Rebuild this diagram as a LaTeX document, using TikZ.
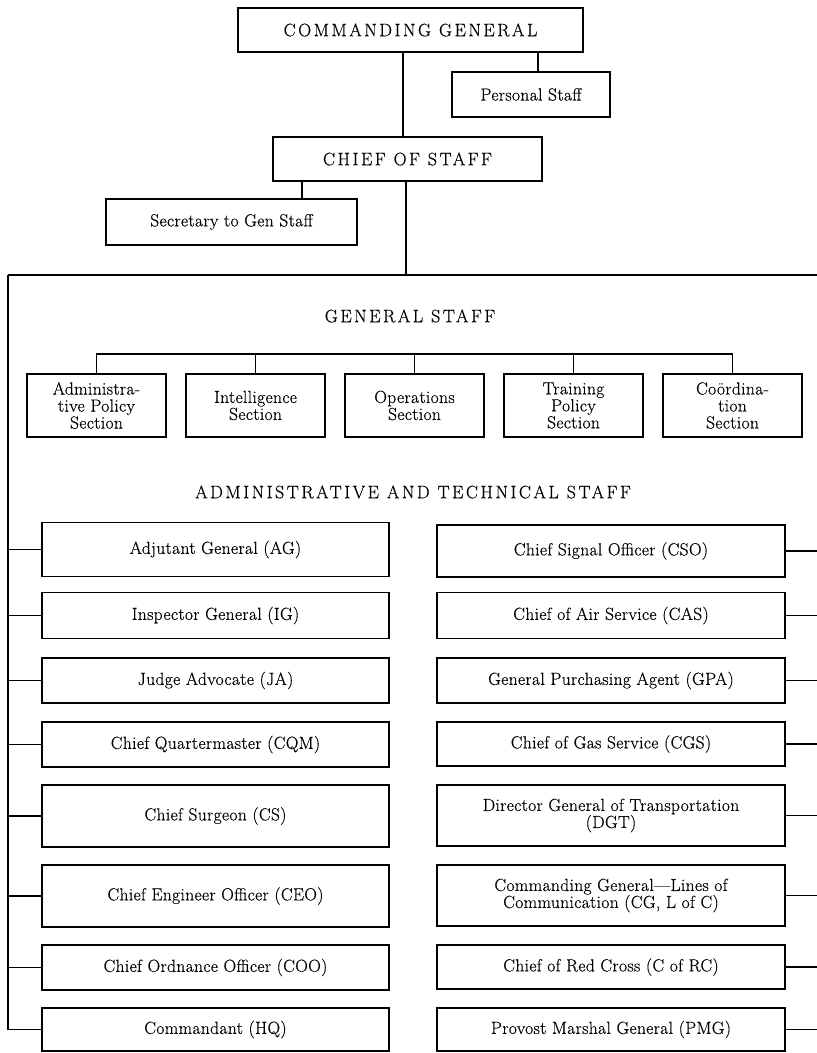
\documentclass[tikz,border=0pt]{standalone}
\usepackage{fontspec}
\newfontfamily\chartfont{Latin Modern Roman}[FakeBold=0.4,LetterSpace=2,Ligatures=TeX]
\newfontfamily\chartcaps{Latin Modern Roman}[FakeBold=0.4,LetterSpace=14,Ligatures=TeX]
\begin{document}
\begin{tikzpicture}[x=1pt,y=-1pt,
  box/.style={draw, line width=1.1pt, inner sep=0pt, align=center,
    font=\fontsize{17.5}{17}\selectfont\chartfont},
  capsbox/.style={box, font=\fontsize{18}{18}\selectfont\chartcaps},
  title/.style={inner sep=0pt, font=\fontsize{18}{18}\selectfont\chartcaps},
  gsbox/.style={box, minimum width=139pt, minimum height=63pt},
  lbox/.style={box, minimum width=347pt},
  rbox/.style={box, minimum width=348pt},
  link/.style={line width=1.1pt}]
\useasboundingbox (0,0) rectangle (817,1053);

% top of the chart
\node[capsbox, minimum width=345pt, minimum height=44pt] (cg) at (410.5,30) {COMMANDING GENERAL};
\node[box, minimum width=158pt, minimum height=45pt] (ps) at (531,94.5) {Personal Staff};
\node[capsbox, minimum width=269pt, minimum height=44pt] (cos) at (407.5,159) {CHIEF OF STAFF};
\node[box, minimum width=251pt, minimum height=46pt] (sec) at (231.5,222) {Secretary to Gen Staff};

\coordinate (xcg) at (403,0);
\coordinate (xps) at (538,0);
\coordinate (xsec) at (302,0);
\coordinate (xcos) at (406,0);
\coordinate (top) at (406,275);
\coordinate (tl) at (8,275);
\coordinate (tr) at (817,275);

\draw[link] (cg.south -| xcg) -- (cos.north -| xcg);
\draw[link] (cg.south -| xps) -- (ps.north -| xps);
\draw[link] (cos.south -| xsec) -- (sec.north -| xsec);
\draw[link] (cos.south -| xcos) -- (top);
\draw[link] (tl) -- (tr);

% general staff
\node[title] (gs) at (410,316) {GENERAL STAFF};
\node[gsbox] (g1) at (96.5,405.5) {Administra-\\tive Policy\\Section};
\node[gsbox] (g2) at (255.5,405.5) {Intelligence\\Section};
\node[gsbox] (g3) at (414.5,405.5) {Operations\\Section};
\node[gsbox] (g4) at (573.5,405.5) {Training\\Policy\\Section};
\node[gsbox] (g5) at (732.5,405.5) {Coördina-\\tion\\Section};
\coordinate (bar) at (0,354);
\draw[link] (g1.north) -- (g1.north |- bar) -- (g5.north |- bar) -- (g5.north);
\foreach \n in {g2,g3,g4} \draw[link] (\n.north |- bar) -- (\n.north);

% administrative and technical staff
\node[title] (ats) at (413,492) {ADMINISTRATIVE AND TECHNICAL STAFF};

\node[lbox, minimum height=54pt] (ag)  at (215.5,549.5) {Adjutant General (AG)};
\node[lbox, minimum height=46pt] (ig)  at (215.5,615.5) {Inspector General (IG)};
\node[lbox, minimum height=45pt] (ja)  at (215.5,680.5) {Judge Advocate (JA)};
\node[lbox, minimum height=45pt] (cqm) at (215.5,744.5) {Chief Quartermaster (CQM)};
\node[lbox, minimum height=62pt] (cs)  at (215.5,816) {Chief Surgeon (CS)};
\node[lbox, minimum height=62pt] (ceo) at (215.5,896) {Chief Engineer Officer (CEO)};
\node[lbox, minimum height=45pt] (coo) at (215.5,967.5) {Chief Ordnance Officer (COO)};
\node[lbox, minimum height=43pt] (hq)  at (215.5,1029.5) {Commandant (HQ)};

\node[rbox, minimum height=52pt] (cso) at (611,551) {Chief Signal Officer (CSO)};
\node[rbox, minimum height=46pt] (cas) at (611,615.5) {Chief of Air Service (CAS)};
\node[rbox, minimum height=45pt] (gpa) at (611,680.5) {General Purchasing Agent (GPA)};
\node[rbox, minimum height=44pt] (cgs) at (611,744) {Chief of Gas Service (CGS)};
\node[rbox, minimum height=61pt] (dgt) at (611,815.5) {Director General of Transportation\\(DGT)};
\node[rbox, minimum height=61pt] (loc) at (611,895.5) {Commanding General—Lines of\\Communication (CG, L of C)};
\node[rbox, minimum height=44pt] (rc)  at (611,967) {Chief of Red Cross (C of RC)};
\node[rbox, minimum height=43pt] (pmg) at (611,1029.5) {Provost Marshal General (PMG)};

\coordinate (lx) at (8,0);
\coordinate (rx) at (817,0);
\draw[link] (tl) -- (hq.west -| lx) -- (hq.west);
\foreach \n in {ag,ig,ja,cqm,cs,ceo,coo} \draw[link] (\n.west -| lx) -- (\n.west);
\foreach \n in {cso,cas,gpa,cgs,dgt,loc,rc,pmg} \draw[link] (\n.east) -- (\n.east -| rx);
\end{tikzpicture}
\end{document}
